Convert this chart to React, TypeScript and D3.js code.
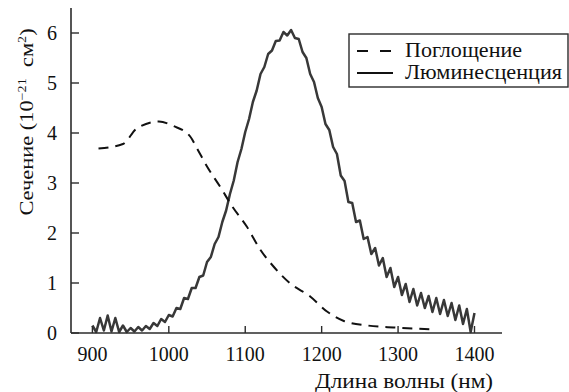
import * as d3 from "d3";

// Absorption (dashed) — wavelength, nm / cross-section, 10^-21 cm^2
const absWave = [908, 940, 958, 987, 1006, 1028, 1037, 1050, 1067, 1083, 1102, 1120, 1137, 1159, 1185, 1207, 1229, 1260, 1294, 1320, 1347];
const absValue = [3.69, 3.78, 4.09, 4.23, 4.14, 3.93, 3.69, 3.33, 2.93, 2.53, 2.13, 1.66, 1.33, 0.99, 0.73, 0.43, 0.24, 0.15, 0.11, 0.09, 0.07];

// Luminescence (solid, noisy), 5 nm step from 900 to 1400
const lumStart = 900;
const lumStep = 5;
const lumValue = [
    0.15, 0.02, 0.3, 0.05, 0.35, 0.03, 0.3, 0.02, 0.15, 0.02,
    0.1, 0.03, 0.12, 0.05, 0.14, 0.08, 0.2, 0.14, 0.28, 0.22,
    0.36, 0.33, 0.5, 0.48, 0.7, 0.68, 0.9, 0.9, 1.12, 1.15,
    1.42, 1.52, 1.78, 1.92, 2.22, 2.45, 2.78, 3.05, 3.42, 3.68,
    4.02, 4.28, 4.62, 4.85, 5.18, 5.32, 5.58, 5.65, 5.84, 5.85,
    6.02, 5.95, 6.06, 5.9, 5.88, 5.62, 5.5, 5.18, 5.02, 4.7,
    4.52, 4.18, 4.06, 3.72, 3.58, 3.15, 3.04, 2.62, 2.6, 2.22,
    2.25, 1.88, 1.92, 1.58, 1.7, 1.35, 1.5, 1.12, 1.3, 0.92,
    1.12, 0.76, 0.98, 0.62, 0.88, 0.55, 0.8, 0.5, 0.74, 0.42,
    0.7, 0.38, 0.66, 0.34, 0.6, 0.26, 0.55, 0.18, 0.48, 0.02,
    0.4
];

const xTickValues = [900, 1000, 1100, 1200, 1300, 1400];
const yTickValues = [0, 1, 2, 3, 4, 5, 6];
const legendLabels = ["Поглощение", "Люминесценция"];
const legendWidths = [117, 157];

export default function App() {
    const width = 569;
    const height = 392;
    const ink = "#2b2b2b";
    const txt = { fontFamily: "Liberation Serif", fontSize: 20 };

    const x = d3.scaleLinear([872, 1436], [71, 502]);
    const y = d3.scaleLinear([0, 6.5], [333, 8]);

    const absPoints: [number, number][] = absWave.map((w, i) => [w, absValue[i]]);
    const lumPoints: [number, number][] = lumValue.map((v, i) => [lumStart + i * lumStep, v]);

    const absLine = d3.line<[number, number]>()
        .x(d => x(d[0]))
        .y(d => y(d[1]))
        .curve(d3.curveMonotoneX);
    const lumLine = d3.line<[number, number]>()
        .x(d => x(d[0]))
        .y(d => y(d[1]));

    return (
        <div style={{ position: "fixed", left: 0, top: 0 }}>
            <svg width={width} height={height} style={{ display: "block", background: "#fff" }}>
                {/* Curves */}
                <path d={lumLine(lumPoints) ?? ""} fill="none" stroke="#383838" strokeWidth={2.5} strokeLinejoin="round" />
                <path d={absLine(absPoints) ?? ""} fill="none" stroke="#111" strokeWidth={2} strokeDasharray="10,7" />

                {/* Axes */}
                <line x1={71} y1={y(0)} x2={502} y2={y(0)} stroke={ink} strokeWidth={1.6} />
                <line x1={71} y1={8} x2={71} y2={y(0)} stroke={ink} strokeWidth={1.6} />
                {xTickValues.map(t => (
                    <g key={t}>
                        <line x1={x(t)} y1={y(0)} x2={x(t)} y2={y(0) - 7} stroke={ink} strokeWidth={1.4} />
                        <text x={x(t)} y={361} textAnchor="middle" fill="#111" style={txt}>{t}</text>
                    </g>
                ))}
                {yTickValues.map(t => (
                    <g key={t}>
                        <line x1={71} y1={y(t)} x2={79} y2={y(t)} stroke={ink} strokeWidth={1.4} />
                        <text x={57} y={y(t) + 7} textAnchor="end" fill="#111" style={txt}>{t}</text>
                    </g>
                ))}

                {/* Axis titles */}
                <text x={315} y={388} textLength={178} lengthAdjust="spacingAndGlyphs" fill="#111" style={txt}>Длина волны (нм)</text>
                <text transform="translate(33,122) rotate(-90) scale(1.18,1)" textAnchor="middle" fill="#111" style={{ ...txt, fontSize: 19 }}>
                    Сечение (10<tspan dy={-7} style={{ fontSize: 12 }}>−21</tspan><tspan dy={7}>{"\u00a0\u00a0"}см</tspan><tspan dy={-7} style={{ fontSize: 12 }}>2</tspan><tspan dy={7}>)</tspan>
                </text>

                {/* Legend */}
                <rect x={349} y={34} width={219} height={53} fill="#fff" stroke={ink} strokeWidth={1.4} />
                <line x1={357} y1={51} x2={393} y2={51} stroke="#111" strokeWidth={2} strokeDasharray="11,12" />
                <line x1={357} y1={73} x2={393} y2={73} stroke="#111" strokeWidth={2} />
                {legendLabels.map((l, i) => (
                    <text key={l} x={405} y={57 + i * 22} textLength={legendWidths[i]} lengthAdjust="spacingAndGlyphs" fill="#111" style={txt}>{l}</text>
                ))}
            </svg>
        </div>
    );
}
